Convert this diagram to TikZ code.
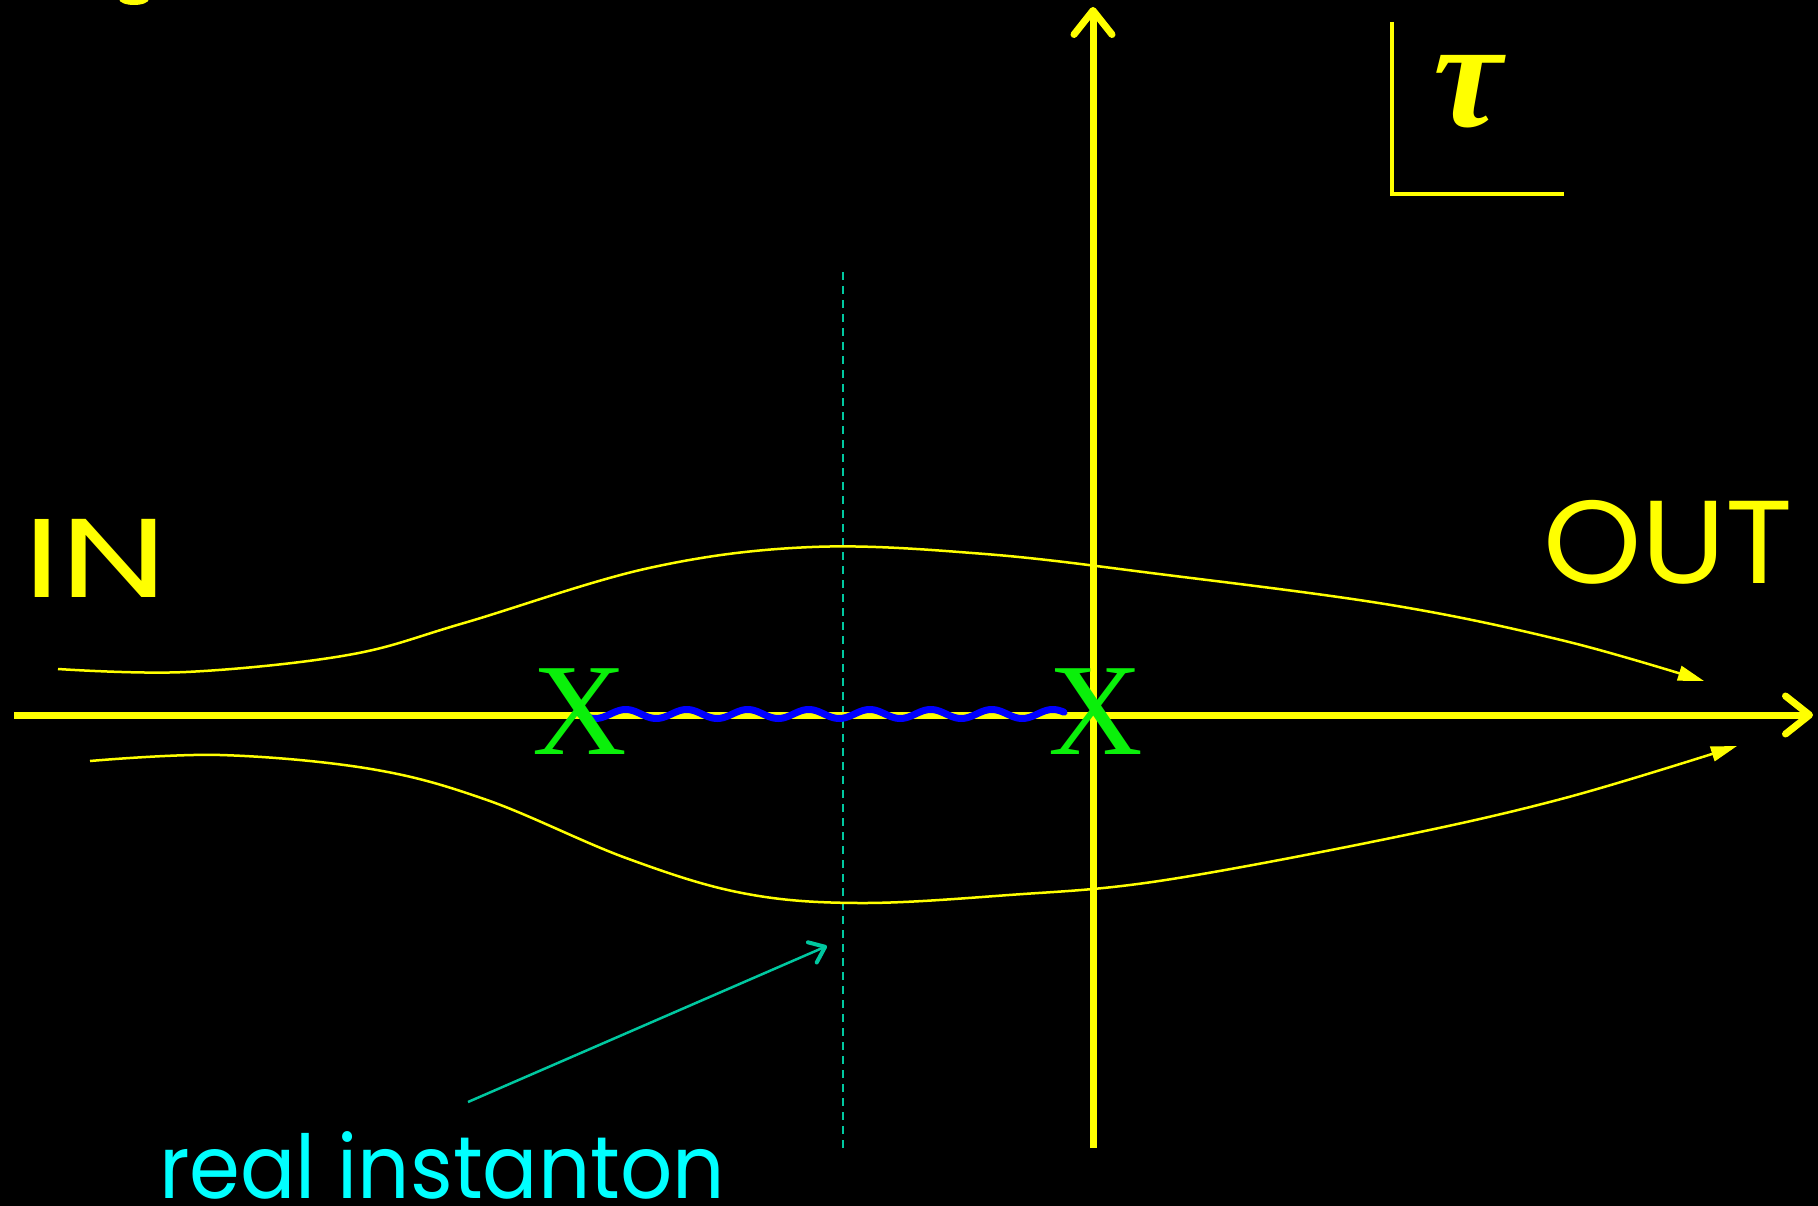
\documentclass[tikz,border=0pt]{standalone}
\usepackage{fontspec}
\setmainfont{Poppins}
\newfontfamily\xfont{Liberation Serif}
\usetikzlibrary{arrows.meta}
\definecolor{yel}{RGB}{255,255,0}
\definecolor{grn}{RGB}{10,240,10}
\definecolor{teal2}{RGB}{0,200,160}
\definecolor{cyn}{RGB}{0,255,255}
\definecolor{blu}{RGB}{0,0,255}
\tikzset{
  axis/.style={yel, line width=7pt, line cap=butt, -{Straight Barb[length=24pt,width=38pt,round]}},
  flow/.style={yel, line width=2.5pt, -{Triangle[length=26pt,width=15pt]}},
  cross/.style={text=grn, inner sep=0pt, font=\xfont\fontsize{131}{131}\selectfont},
  label/.style={inner sep=0pt, anchor=base west},
}
\begin{document}
\begin{tikzpicture}[x=1pt,y=-1pt]
\fill[black] (0,0) rectangle (1818,1206);
\useasboundingbox (0,0) rectangle (1818,1206);
\clip (0,0) rectangle (1818,1206);
% partial glyph at top edge
\fill[yel] (134,-1) ellipse (15pt and 6pt);
% coordinates
\coordinate (hL) at (14,715);
\coordinate (hR) at (1813,715);
\coordinate (vB) at (1093,1148);
\coordinate (vT) at (1093,7);
\coordinate (dT) at (843,272);
\coordinate (dB) at (843,1148);
\coordinate (aS) at (468,1102);
\coordinate (aE) at (827,946);
\coordinate (tO) at (1392,194);
% dashed line
\draw[teal2, line width=2pt, dash pattern=on 8pt off 6pt] (dT) -- (dB);
% horizontal axis
\draw[axis] (hL) -- (hR);
% vertical axis
\draw[axis] (vB) -- (vT);
% upper flow curve
\draw[flow] plot[smooth, tension=0.6] coordinates {(58,669) (186,672) (348,655) (464,623) (649,568) (812,547) (985,554) (1159,574) (1391,605) (1565,641) (1704,681)};
% lower flow curve
\draw[flow] plot[smooth, tension=0.6] coordinates {(90,761) (220,755) (371,769) (487,800) (626,858) (742,893) (858,903) (1009,895) (1159,881) (1391,838) (1565,798) (1737,746)};
% wavy line
\draw[blu, line width=7pt, line cap=round] plot[domain=580:1064, samples=240] (\x, {714 + 4.5*sin((\x-580)/61*360)});
% crosses
\node[cross] (xL) at (580,712) {X};
\node[cross] (xR) at (1096,712) {X};
% tau frame
\draw[yel, line width=4pt] (1392,22) -- (tO) -- (1564,194);
\node[text=yel, inner sep=0pt] (tau) at (1468,92) {\xfont\bfseries\itshape\fontsize{155}{155}\selectfont τ};
% labels
\node[label, text=yel] (in) at (23,597) {\scalebox{1.36}[1]{\fontsize{112}{112}\selectfont IN}};
\node[label, text=yel] (out) at (1543,583) {\scalebox{1.06}[1]{\fontsize{118}{118}\selectfont OUT}};
\node[label, text=cyn] (ri) at (159,1198) {\scalebox{0.93}[1]{\fontsize{88}{88}\selectfont real instanton}};
% pointer arrow
\draw[teal2, line width=2.5pt, -{Straight Barb[length=14pt,width=22pt,line width=4pt,round]}] (aS) -- (aE);
\end{tikzpicture}
\end{document}
